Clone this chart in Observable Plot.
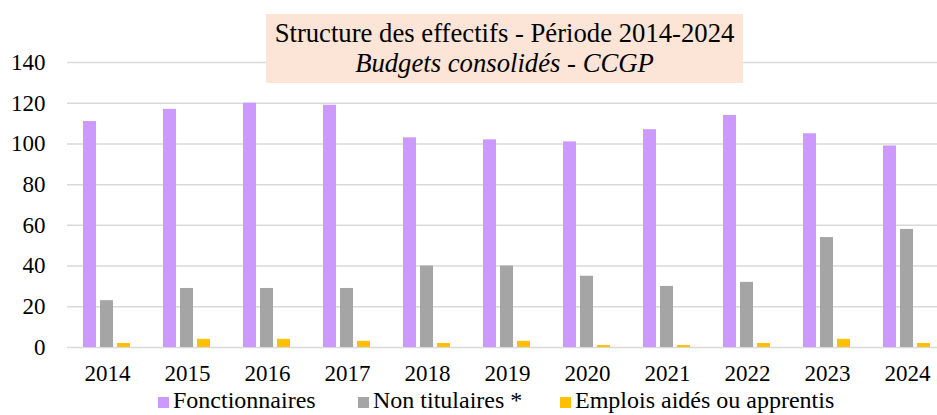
<!DOCTYPE html>
<html>
<head>
<meta charset="utf-8">
<script src="https://cdn.jsdelivr.net/npm/d3@7"></script>
<script src="https://cdn.jsdelivr.net/npm/@observablehq/plot@0.6"></script>
<style>
  html, body { margin: 0; padding: 0; background: #fff; overflow: hidden; }
  #wrap { position: relative; width: 937px; height: 415px; overflow: hidden; font-family: "Liberation Serif", "Times New Roman", serif; color: #000; }
  #chart { position: absolute; left: 0; top: 0; width: 947px; }
  #chart svg { max-width: none !important; }
  #title { position: absolute; left: 266px; top: 14px; width: 477px; height: 69px; background: #FCE4D6; text-align: center; font-size: 26.7px; line-height: 30px; padding-top: 4px; box-sizing: border-box; }
  #title .sub { font-style: italic; }
  .leg { position: absolute; top: 388px; font-size: 24px; line-height: 24px; white-space: nowrap; }
  .sw { display: inline-block; width: 11px; height: 11px; margin-right: 4px; }
</style>
</head>
<body>
<div id="wrap">
  <div id="chart"></div>
  <div id="title"><div>Structure des effectifs - Période 2014-2024</div><div class="sub">Budgets consolidés - CCGP</div></div>
  <div id="legend"></div>
</div>
<script>
const years = ["2014","2015","2016","2017","2018","2019","2020","2021","2022","2023","2024"];
const seriesNames = ["Fonctionnaires", "Non titulaires *", "Emplois aidés ou apprentis"];
const fonctionnaires = [111, 117, 120, 119, 103, 102, 101, 107, 114, 105, 99];
const nonTitulaires = [23, 29, 29, 29, 40, 40, 35, 30, 32, 54, 58];
const emploisAides = [2, 4, 4, 3, 2, 3, 1, 1, 2, 4, 2];
const colors = ["#CC99FF", "#A5A5A5", "#FFC000"];
const yTicks = [0, 20, 40, 60, 80, 100, 120, 140];

const seriesValues = [fonctionnaires, nonTitulaires, emploisAides];
const data = [];
years.forEach((yr, i) => {
  seriesNames.forEach((s, j) => data.push({year: yr, series: s, value: seriesValues[j][i]}));
});

const chart = Plot.plot({
  width: 947,
  height: 415,
  marginTop: 62,
  marginBottom: 68,
  marginLeft: 67,
  marginRight: 0,
  style: {fontFamily: "'Liberation Serif', 'Times New Roman', serif", fontSize: "23px", color: "#000", background: "transparent", maxWidth: "none"},
  fx: {domain: years, padding: 0, tickSize: 0, tickPadding: 17, label: null},
  x: {domain: seriesNames, paddingInner: 0.21, paddingOuter: 0.865, axis: null},
  y: {domain: [0, 140], ticks: yTicks, tickSize: 0, tickPadding: 22, label: null},
  color: {domain: seriesNames, range: colors},
  marks: [
    Plot.gridY(yTicks, {stroke: "#D9D9D9", strokeOpacity: 1, strokeWidth: 1.5}),
    Plot.barY(data, {fx: "year", x: "series", y: "value", fill: "series"})
  ]
});
document.getElementById("chart").appendChild(chart);

const legend = document.getElementById("legend");
const legLeft = [158, 358, 560];
seriesNames.forEach((s, j) => {
  const d = document.createElement("div");
  d.className = "leg";
  d.style.left = legLeft[j] + "px";
  const sw = document.createElement("span");
  sw.className = "sw";
  sw.style.background = colors[j];
  d.appendChild(sw);
  d.appendChild(document.createTextNode(s));
  legend.appendChild(d);
});
</script>
</body>
</html>
